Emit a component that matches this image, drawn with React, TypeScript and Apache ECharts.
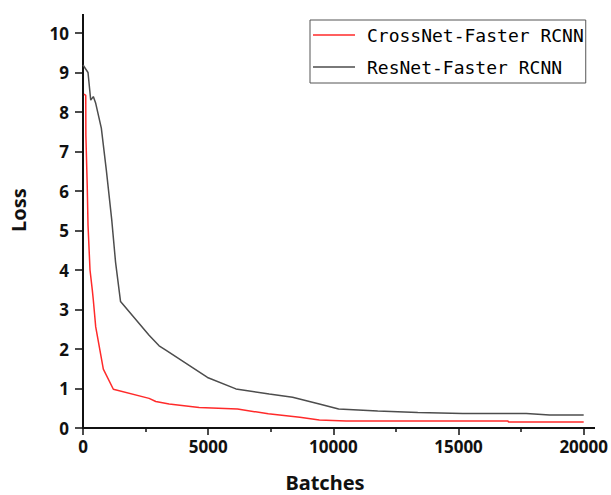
import React, { useEffect, useRef } from "react";
import * as echarts from "echarts";

const seriesNames = ["CrossNet-Faster RCNN", "ResNet-Faster RCNN"];

const crossNetBatches = [40, 110, 115, 170, 200, 280, 372, 412, 508, 812, 1212, 2640, 2908, 3440, 4640, 6172, 7400, 8660, 9440, 10508, 16972, 17000, 20000];
const crossNetLoss = [8.45, 8.42, 7.42, 6.1, 5.14, 4.0, 3.49, 3.24, 2.56, 1.49, 0.98, 0.75, 0.67, 0.61, 0.52, 0.48, 0.36, 0.27, 0.2, 0.18, 0.18, 0.15, 0.15];

const resNetBatches = [0, 200, 308, 412, 508, 732, 932, 1148, 1300, 1500, 2640, 3040, 3308, 4972, 6108, 7440, 8372, 9440, 10212, 11772, 13372, 15172, 17708, 18640, 20000];
const resNetLoss = [9.19, 9.0, 8.3, 8.39, 8.22, 7.59, 6.53, 5.27, 4.2, 3.2, 2.35, 2.08, 1.97, 1.28, 0.99, 0.86, 0.78, 0.61, 0.48, 0.43, 0.39, 0.37, 0.37, 0.33, 0.33];

const xTicks = [0, 5000, 10000, 15000, 20000];
const yTicks = [0, 1, 2, 3, 4, 5, 6, 7, 8, 9, 10];

const colors = ["#ff2a2a", "#4d4d4d"];

export default function App() {
  const ref = useRef<HTMLDivElement>(null);
  useEffect(() => {
    if (!ref.current) return;
    const chart = echarts.init(ref.current, null, { renderer: "svg" });
    const labelFont = { fontFamily: "Noto Sans", fontWeight: "bold" as const, fontSize: 17, color: "#111" };
    chart.setOption({
      animation: false,
      backgroundColor: "#fff",
      grid: { left: 83, right: 27.3, top: 33, bottom: 67 },
      xAxis: {
        type: "value",
        min: xTicks[0],
        max: xTicks[xTicks.length - 1],
        interval: 5000,
        splitLine: { show: false },
        axisLine: { show: true, lineStyle: { color: "#111", width: 2 } },
        axisTick: { show: true, length: 7, inside: false, lineStyle: { color: "#111", width: 1.5 } },
        minorTick: { show: true, splitNumber: 2, length: 4, lineStyle: { color: "#111", width: 1.5 } },
        axisLabel: { ...labelFont, margin: 10, formatter: (v: number) => String(v) },
      },
      yAxis: {
        type: "value",
        min: yTicks[0],
        max: yTicks[yTicks.length - 1],
        interval: 1,
        splitLine: { show: false },
        axisLine: { show: true, lineStyle: { color: "#111", width: 2 } },
        axisTick: { show: true, length: 8, inside: false, lineStyle: { color: "#111", width: 1.5 } },
        axisLabel: { ...labelFont, margin: 14, formatter: (v: number) => String(v) },
      },
      legend: {
        orient: "vertical",
        left: 310,
        top: 20,
        data: seriesNames,
        icon: "rect",
        itemWidth: 42,
        itemHeight: 1.5,
        itemGap: 12,
        borderColor: "#555",
        borderWidth: 1,
        padding: [5, 2, 6, 3],
        textStyle: {
          fontFamily: "DejaVu Sans Mono",
          fontSize: 18,
          lineHeight: 20,
          color: "#000",
          padding: [0, 0, 0, 7],
        },
      },
      graphic: [
        { type: "line", shape: { x1: 83, y1: 14, x2: 83, y2: 33 }, style: { stroke: "#111", lineWidth: 2 } },
        { type: "line", shape: { x1: 583, y1: 428, x2: 595, y2: 428 }, style: { stroke: "#111", lineWidth: 2 } },
        {
          type: "text",
          x: 18,
          y: 210,
          rotation: Math.PI / 2,
          style: { text: "Loss", fontFamily: "Noto Sans", fontWeight: "bold", fontSize: 20, fill: "#111", align: "center", verticalAlign: "middle" },
        },
        {
          type: "text",
          x: 325,
          y: 482,
          style: { text: "Batches", fontFamily: "Noto Sans", fontWeight: "bold", fontSize: 20, fill: "#111", align: "center", verticalAlign: "middle" },
        },
      ],
      series: [
        {
          name: seriesNames[0],
          type: "line",
          data: crossNetBatches.map((b, i) => [b, crossNetLoss[i]]),
          showSymbol: false,
          symbol: "none",
          lineStyle: { color: colors[0], width: 1.5 },
          itemStyle: { color: colors[0] },
          z: 3,
        },
        {
          name: seriesNames[1],
          type: "line",
          data: resNetBatches.map((b, i) => [b, resNetLoss[i]]),
          showSymbol: false,
          symbol: "none",
          lineStyle: { color: colors[1], width: 1.5 },
          itemStyle: { color: colors[1] },
          z: 2,
        },
      ],
    });
    return () => chart.dispose();
  }, []);
  return <div ref={ref} style={{ width: 611, height: 495, position: "absolute", left: 0, top: 0 }} />;
}
